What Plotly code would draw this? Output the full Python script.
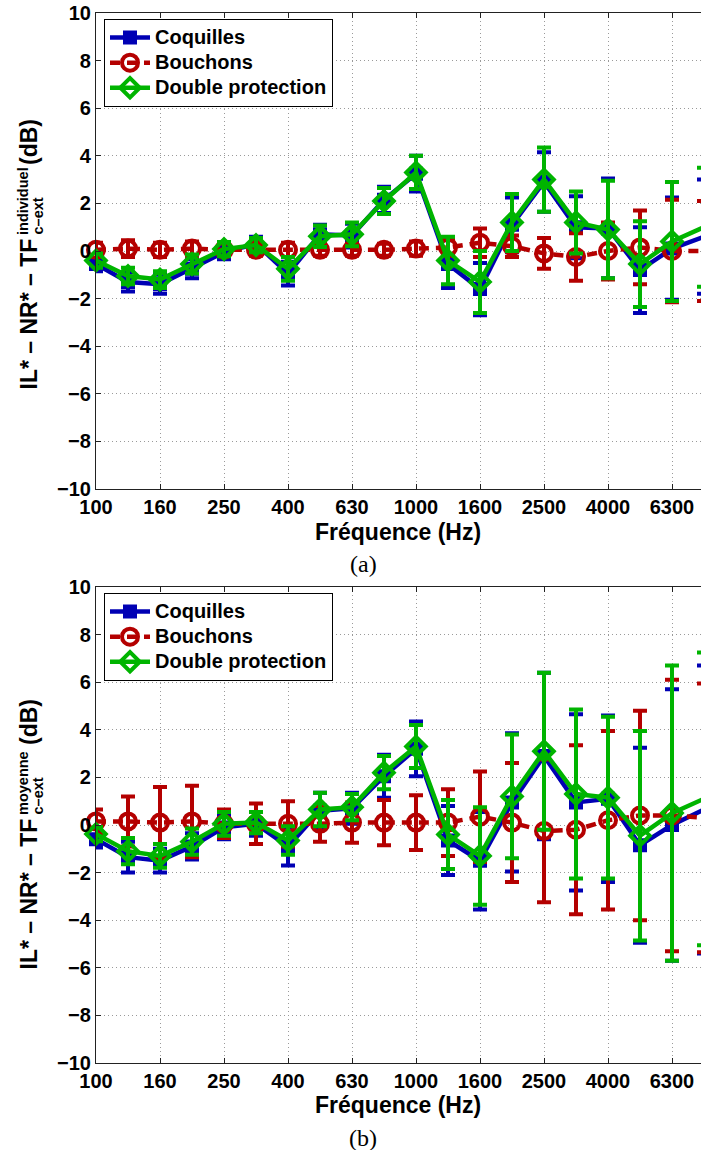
import plotly.graph_objects as go

# Third-octave band centre frequencies (Hz)
bands = ["100", "125", "160", "200", "250", "315", "400", "500", "630", "800",
         "1000", "1250", "1600", "2000", "2500", "3150", "4000", "5000", "6300", "8000"]
tick_labels = ["100", "160", "250", "400", "630", "1000", "1600", "2500", "4000", "6300"]
y_ticks = [-10, -8, -6, -4, -2, 0, 2, 4, 6, 8, 10]

# (a) individual transfer function
coq_a = [-0.55, -1.3, -1.4, -0.75, -0.05, 0.3, -0.95, 0.7, 0.65, 2.15,
         3.25, -0.55, -1.6, 1.1, 2.9, 1.0, 0.95, -0.8, 0.1, 0.6]
coq_a_err = [0.3, 0.4, 0.4, 0.4, 0.3, 0.3, 0.5, 0.4, 0.5, 0.55,
             0.75, 1.0, 1.1, 1.15, 1.25, 1.3, 2.1, 1.8, 2.15, 2.4]
bou_a = [0.05, 0.1, 0.05, 0.1, 0.05, 0.05, 0.05, 0.05, 0.05, 0.05,
         0.1, 0.15, 0.35, 0.2, -0.1, -0.25, 0.0, 0.15, 0.0, 0.0]
bou_a_err = [0.3, 0.35, 0.3, 0.3, 0.25, 0.25, 0.3, 0.25, 0.25, 0.25,
             0.3, 0.35, 0.6, 0.45, 0.65, 1.0, 1.2, 1.55, 2.15, 2.1]
dbl_a = [-0.4, -1.05, -1.2, -0.55, 0.08, 0.25, -0.75, 0.62, 0.7, 2.1,
         3.3, -0.4, -1.3, 1.2, 3.0, 1.2, 0.9, -0.55, 0.4, 1.0]
dbl_a_err = [0.3, 0.35, 0.35, 0.4, 0.3, 0.3, 0.5, 0.45, 0.5, 0.55,
             0.7, 1.0, 1.3, 1.2, 1.35, 1.3, 2.05, 1.8, 2.5, 2.5]

# (b) mean transfer function
coq_b = [-0.6, -1.35, -1.5, -0.9, -0.1, 0.05, -0.9, 0.6, 0.7, 2.05,
         3.2, -0.65, -1.5, 0.95, 2.9, 0.95, 1.1, -0.85, 0.0, 0.65]
coq_b_err = [0.35, 0.65, 0.5, 0.55, 0.5, 0.5, 0.8, 0.75, 0.65, 0.9,
             1.15, 1.45, 2.05, 2.9, 3.5, 3.7, 3.5, 4.1, 5.7, 6.05]
bou_b = [0.15, 0.15, 0.1, 0.15, 0.05, 0.05, 0.05, 0.05, 0.1, 0.1,
         0.1, 0.1, 0.35, 0.1, -0.25, -0.2, 0.2, 0.4, 0.4, 0.3]
bou_b_err = [0.5, 1.05, 1.5, 1.5, 0.6, 0.85, 0.95, 0.75, 0.85, 0.95,
             1.15, 1.4, 1.9, 2.5, 3.0, 3.55, 3.75, 4.4, 5.7, 5.65]
dbl_b = [-0.38, -1.1, -1.3, -0.7, 0.05, 0.1, -0.65, 0.65, 0.75, 2.2,
         3.3, -0.4, -1.3, 1.2, 3.1, 1.3, 1.15, -0.45, 0.5, 1.1]
dbl_b_err = [0.3, 0.55, 0.5, 0.55, 0.5, 0.45, 0.6, 0.7, 0.55, 0.7,
             0.9, 1.45, 2.05, 2.6, 3.3, 3.55, 3.4, 4.4, 6.2, 6.15]

series_names = ["Coquilles", "Bouchons", "Double protection"]

BLUE = "#0000B4"
RED = "#B40000"
GREEN = "#00B400"
FONT = "Liberation Sans"
SERIF = "Liberation Serif"

W, H = 701, 1150
ML, MT, MB = 96, 13, 87
PW = W - ML
PH = H - MT - MB


def px(xp):
    return (xp - ML) / PW


def py(yp):
    return (H - MB - yp) / PH


top_dom = [1 - 476 / PH, 1.0]
bot_dom = [0.0, 476 / PH]

fig = go.Figure()


def add_series(name, y, err, color, dash, marker, xa, ya, legend):
    fig.add_trace(go.Scatter(
        x=bands, y=y, name='<span style="font-size:20px">%s</span>' % name,
        mode="lines+markers",
        line=dict(color=color, width=4.5, dash=dash),
        marker=marker,
        error_y=dict(type="data", array=err, visible=True, color=color,
                     thickness=4, width=7),
        xaxis=xa, yaxis=ya, legend=legend, showlegend=True,
        cliponaxis=False,
    ))


def markers(kind):
    if kind == "coq":
        return dict(symbol="square", size=12, color=BLUE,
                    line=dict(color=BLUE, width=2))
    if kind == "bou":
        return dict(symbol="circle-open", size=16, color=RED,
                    line=dict(color=RED, width=4))
    return dict(symbol="diamond-open", size=15, color=GREEN,
                line=dict(color=GREEN, width=4))


for (xa, ya, leg, data) in [
    ("x", "y", "legend", [(coq_a, coq_a_err), (bou_a, bou_a_err), (dbl_a, dbl_a_err)]),
    ("x2", "y2", "legend2", [(coq_b, coq_b_err), (bou_b, bou_b_err), (dbl_b, dbl_b_err)]),
]:
    (c, ce), (b, be), (d, de) = data
    add_series(series_names[0], c, ce, BLUE, "solid", markers("coq"), xa, ya, leg)
    add_series(series_names[1], b, be, RED, "10px,7px", markers("bou"), xa, ya, leg)
    add_series(series_names[2], d, de, GREEN, "solid", markers("dbl"), xa, ya, leg)

tickfont = dict(family=FONT, size=20, color="black", weight="bold")

xcommon = dict(
    type="category", categoryorder="array", categoryarray=bands,
    range=[0, PW / 32.0],
    tickmode="array", tickvals=tick_labels, ticktext=tick_labels,
    ticks="inside", ticklen=5, tickwidth=1, tickcolor="#222",
    showline=True, linecolor="#222", linewidth=1.2, mirror="ticks",
    showgrid=True, gridcolor="#9a9a9a", gridwidth=1, griddash="1px,3px",
    zeroline=False, tickfont=tickfont, ticklabelstandoff=0,
    domain=[0, 1],
)
ycommon = dict(
    range=[-10, 10], tickmode="array", tickvals=y_ticks,
    ticks="inside", ticklen=5, tickwidth=1, tickcolor="#222",
    showline=True, linecolor="#222", linewidth=1.2, mirror=False,
    showgrid=True, gridcolor="#9a9a9a", gridwidth=1, griddash="1px,3px",
    zeroline=False, tickfont=tickfont,
)
rcommon = dict(
    range=[-10, 10], tickmode="array", tickvals=y_ticks, side="right",
    ticks="inside", ticklen=5, tickwidth=1, tickcolor="#222",
    showticklabels=False, showgrid=False, showline=False, zeroline=False,
)

legcommon = dict(
    xanchor="left", yanchor="top", x=px(104),
    bgcolor="white", bordercolor="black", borderwidth=1,
    font=dict(family=FONT, size=17, color="black", weight="bold"),
    tracegroupgap=0, itemwidth=40,
)

fig.update_layout(
    width=W, height=H,
    margin=dict(l=ML, r=0, t=MT, b=MB),
    paper_bgcolor="white", plot_bgcolor="white",
    xaxis=dict(xcommon, anchor="y"),
    yaxis=dict(ycommon, anchor="x", domain=top_dom),
    xaxis2=dict(xcommon, anchor="y2"),
    yaxis2=dict(ycommon, anchor="x2", domain=bot_dom),
    yaxis3=dict(rcommon, overlaying="y", anchor="x", domain=top_dom),
    yaxis4=dict(rcommon, overlaying="y2", anchor="x2", domain=bot_dom),
    legend=dict(legcommon, y=py(19)),
    legend2=dict(legcommon, y=py(593)),
    showlegend=True,
)

ann = []


def text(t, x, y, size, family=FONT, bold=True, angle=0, xa="center", ya="middle"):
    ann.append(dict(
        text=t, x=px(x), y=py(y), xref="paper", yref="paper",
        showarrow=False, textangle=angle, xanchor=xa, yanchor=ya,
        font=dict(family=family, size=size, color="black",
                  weight="bold" if bold else "normal"),
    ))


# axis titles and panel captions
for xt_y, cap, cap_y in [(532, "(a)", 564), (1105, "(b)", 1138)]:
    text("Fréquence (Hz)", 398, xt_y, 23)
    text(cap, 363, cap_y, 24, family=SERIF, bold=False)

# y-axis labels with stacked super/subscripts
for main_top, sup in [(237, "individuel"), (817, "moyenne")]:
    text("IL* – NR* – TF", 28, main_top, 23, angle=-90, ya="top")
    text(sup, 23, main_top, 14.5, angle=-90, ya="bottom")
    text("c–ext", 37, main_top, 14.5, angle=-90, ya="bottom")
    text("(dB)", 29, main_top - 70, 23, angle=-90, ya="bottom")

fig.update_layout(annotations=ann)

fig.write_html("out.html")
